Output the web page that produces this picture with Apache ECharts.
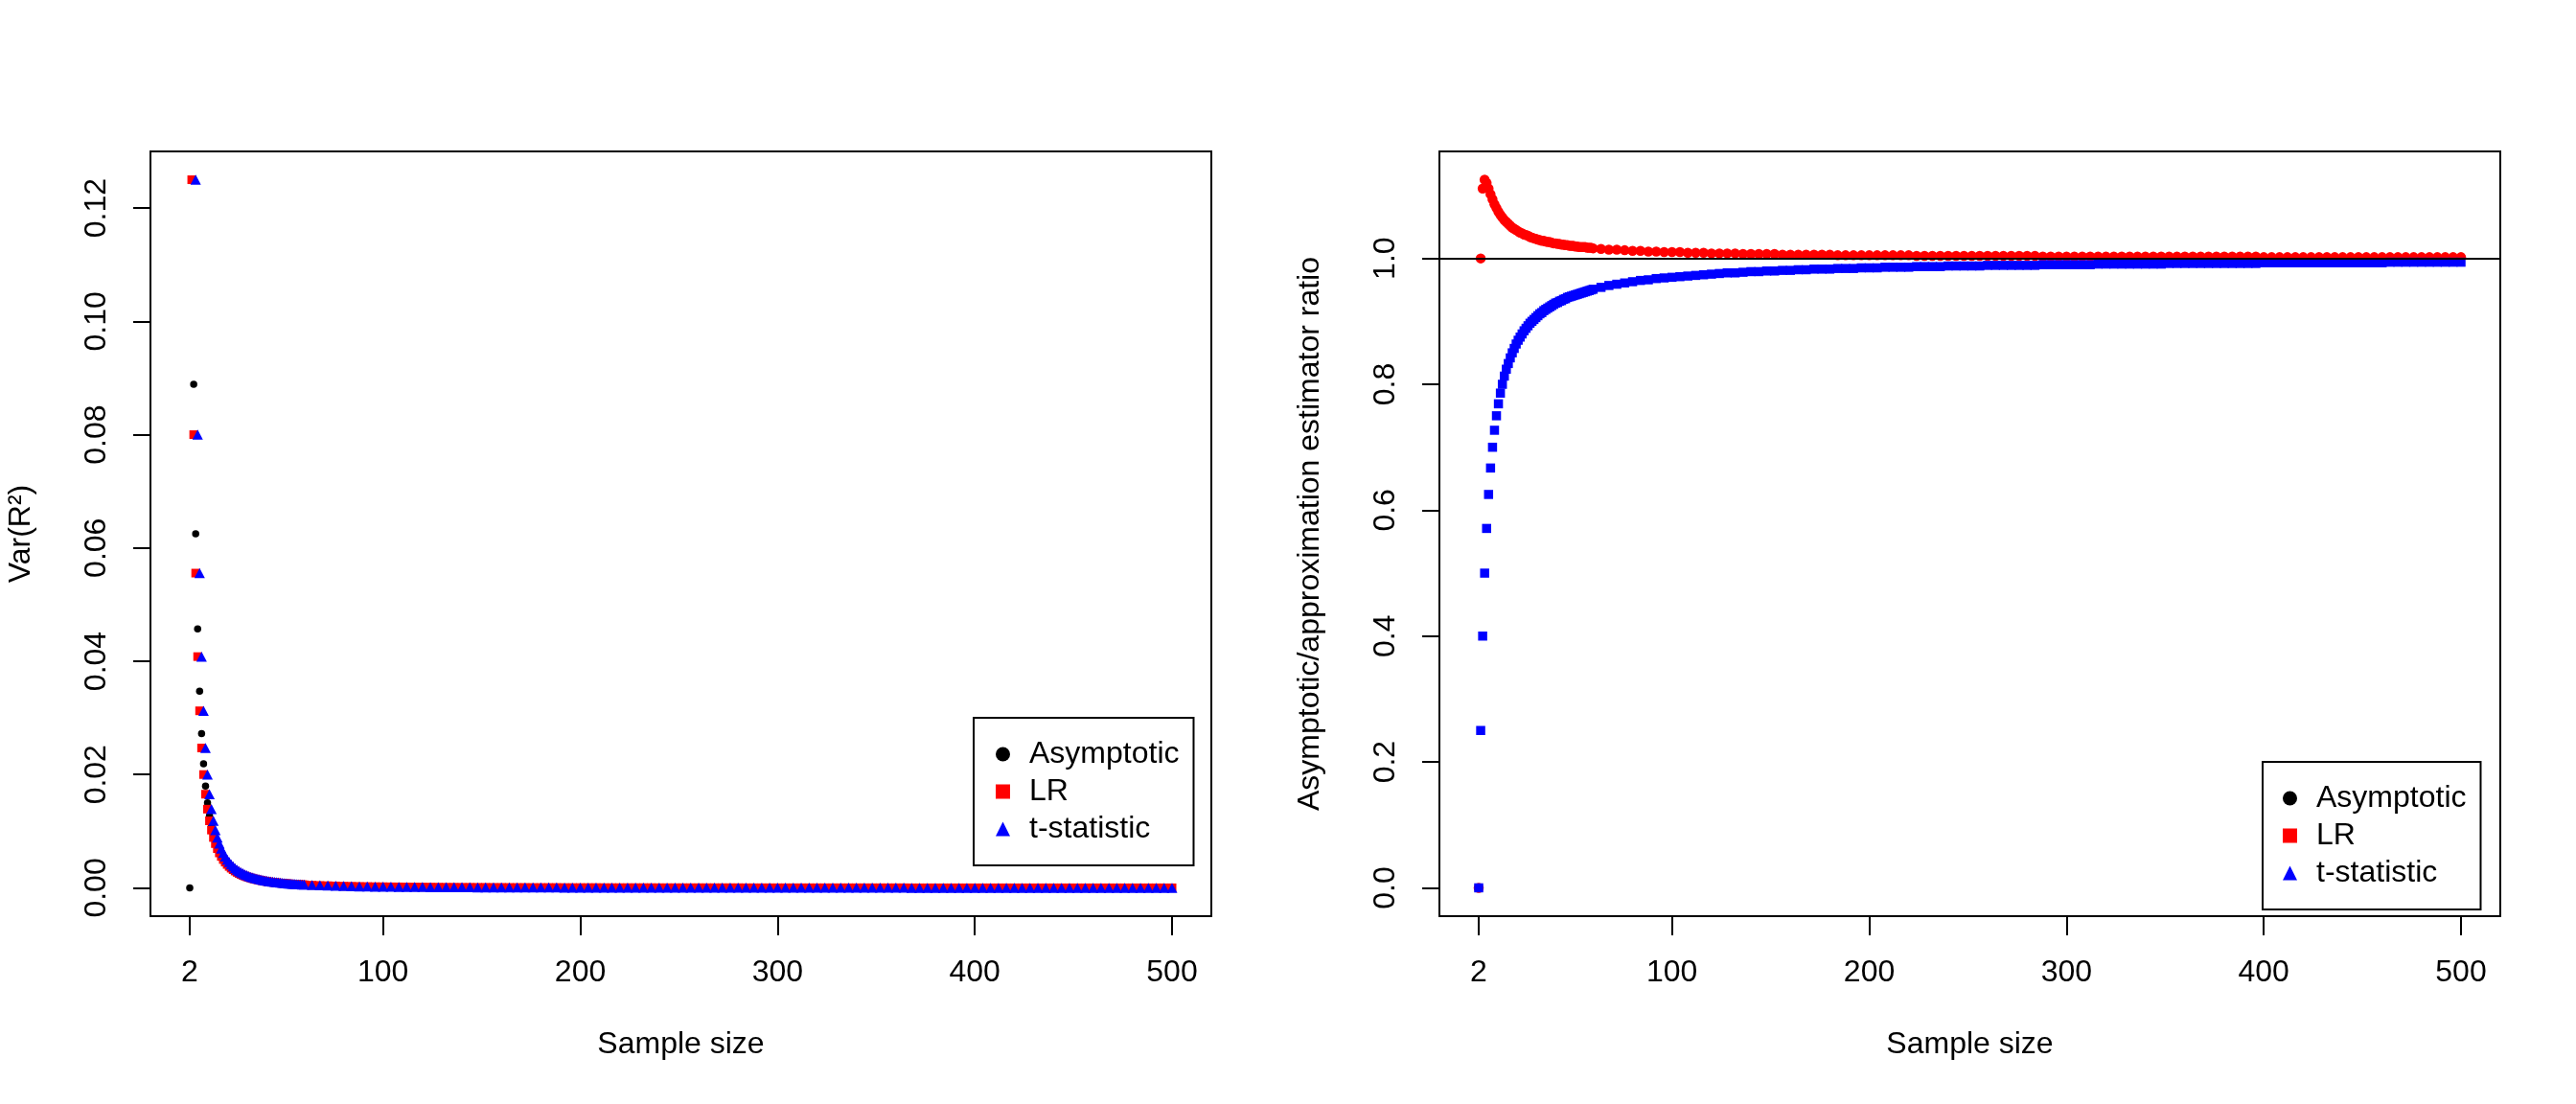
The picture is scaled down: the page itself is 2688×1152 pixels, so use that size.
<!DOCTYPE html>
<html>
<head>
<meta charset="utf-8">
<title>Var(R2) by sample size</title>
<script src="https://cdn.jsdelivr.net/npm/echarts/dist/echarts.min.js"></script>
<style>
  html,body{margin:0;padding:0;background:#fff;}
  #main{width:2688px;height:1152px;}
</style>
</head>
<body>
<div id="main"></div>
<script>
/* sample sizes: every n up to 60, then every 4th */
var sampleSize = [
  2,3,4,5,6,7,8,9,10,11,
  12,13,14,15,16,17,18,19,20,21,
  22,23,24,25,26,27,28,29,30,31,
  32,33,34,35,36,37,38,39,40,41,
  42,43,44,45,46,47,48,49,50,51,
  52,53,54,55,56,57,58,59,60,64,
  68,72,76,80,84,88,92,96,100,104,
  108,112,116,120,124,128,132,136,140,144,
  148,152,156,160,164,168,172,176,180,184,
  188,192,196,200,204,208,212,216,220,224,
  228,232,236,240,244,248,252,256,260,264,
  268,272,276,280,284,288,292,296,300,304,
  308,312,316,320,324,328,332,336,340,344,
  348,352,356,360,364,368,372,376,380,384,
  388,392,396,400,404,408,412,416,420,424,
  428,432,436,440,444,448,452,456,460,464,
  468,472,476,480,484,488,492,496,500
];

/* left panel, n = 2..104 */
var varAsymHead = [
  0,0.125,0.08889,0.0625,0.04571,0.03472,0.02721,0.02188,0.01796,0.015,
  0.01271,0.01091,0.00947,0.00829,0.00732,0.00651,0.00583,0.00525,0.00475,0.00432,
  0.00394,0.00362,0.00333,0.00307,0.00284,0.00264,0.00246,0.0023,0.00215,0.00201,
  0.00189,0.00178,0.00168,0.00159,0.0015,0.00142,0.00135,0.00128,0.00122,0.00116,
  0.00111,0.00106,0.00101,0.00097,0.00092,0.00089,0.00085,0.00082,0.00078,0.00075,
  0.00073,0.0007,0.00067,0.00065,0.00063,0.0006,0.00058,0.00056,0.00055,0.00048,
  0.00043,0.00038,0.00034,0.00031,0.00028,0.00026,0.00023,0.00021,0.0002,0.00018
];
var varLRHead = [
  null,0.125,0.08,0.05556,0.04082,0.03125,0.02469,0.02,0.01653,0.01389,
  0.01183,0.0102,0.00889,0.00781,0.00692,0.00617,0.00554,0.005,0.00454,0.00413,
  0.00378,0.00347,0.0032,0.00296,0.00274,0.00255,0.00238,0.00222,0.00208,0.00195,
  0.00184,0.00173,0.00163,0.00154,0.00146,0.00139,0.00131,0.00125,0.00119,0.00113,
  0.00108,0.00103,0.00099,0.00095,0.00091,0.00087,0.00083,0.0008,0.00077,0.00074,
  0.00071,0.00069,0.00066,0.00064,0.00062,0.00059,0.00057,0.00056,0.00054,0.00047,
  0.00042,0.00038,0.00034,0.0003,0.00028,0.00025,0.00023,0.00021,0.0002,0.00018
];
var varTHead = [
  null,null,null,0.125,0.08,0.05556,0.04082,0.03125,0.02469,0.02,
  0.01653,0.01389,0.01183,0.0102,0.00889,0.00781,0.00692,0.00617,0.00554,0.005,
  0.00454,0.00413,0.00378,0.00347,0.0032,0.00296,0.00274,0.00255,0.00238,0.00222,
  0.00208,0.00195,0.00184,0.00173,0.00163,0.00154,0.00146,0.00139,0.00131,0.00125,
  0.00119,0.00113,0.00108,0.00103,0.00099,0.00095,0.00091,0.00087,0.00083,0.0008,
  0.00077,0.00074,0.00071,0.00069,0.00066,0.00064,0.00062,0.00059,0.00057,0.0005,
  0.00045,0.0004,0.00036,0.00032,0.00029,0.00026,0.00024,0.00022,0.0002,0.00019
];
/* n = 108..500, the three variances overlap at this scale */
var varTail = [
  0.00017,0.00016,0.00015,0.00014,0.00013,0.00012,0.00011,0.00011,0.0001,0.0001,
  0.00009,0.00009,0.00008,0.00008,0.00007,0.00007,0.00007,0.00006,0.00006,0.00006,
  0.00006,0.00005,0.00005,0.00005,0.00005,0.00005,0.00004,0.00004,0.00004,0.00004,
  0.00004,0.00004,0.00004,0.00003,0.00003,0.00003,0.00003,0.00003,0.00003,0.00003,
  0.00003,0.00003,0.00003,0.00003,0.00002,0.00002,0.00002,0.00002,0.00002,0.00002,
  0.00002,0.00002,0.00002,0.00002,0.00002,0.00002,0.00002,0.00002,0.00002,0.00002,
  0.00002,0.00002,0.00002,0.00002,0.00002,0.00001,0.00001,0.00001,0.00001,0.00001,
  0.00001,0.00001,0.00001,0.00001,0.00001,0.00001,0.00001,0.00001,0.00001,0.00001,
  0.00001,0.00001,0.00001,0.00001,0.00001,0.00001,0.00001,0.00001,0.00001,0.00001,
  0.00001,0.00001,0.00001,0.00001,0.00001,0.00001,0.00001,0.00001,0.00001
];
var varAsym = varAsymHead.concat(varTail);
var varLR = varLRHead.concat(varTail);
var varT = varTHead.concat(varTail);

/* right panel: asymptotic / approximation */
var ratioLR = [
  0,1,1.111,1.125,1.12,1.111,1.102,1.094,1.086,1.08,
  1.074,1.069,1.065,1.061,1.058,1.055,1.052,1.049,1.047,1.045,
  1.043,1.041,1.04,1.038,1.037,1.036,1.034,1.033,1.032,1.031,
  1.03,1.029,1.028,1.028,1.027,1.026,1.026,1.025,1.024,1.024,
  1.023,1.023,1.022,1.022,1.021,1.021,1.02,1.02,1.02,1.019,
  1.019,1.018,1.018,1.018,1.018,1.017,1.017,1.017,1.016,1.015,
  1.014,1.014,1.013,1.012,1.012,1.011,1.011,1.01,1.01,1.01,
  1.009,1.009,1.009,1.008,1.008,1.008,1.008,1.007,1.007,1.007,
  1.007,1.007,1.006,1.006,1.006,1.006,1.006,1.006,1.006,1.005,
  1.005,1.005,1.005,1.005,1.005,1.005,1.005,1.005,1.005,1.004,
  1.004,1.004,1.004,1.004,1.004,1.004,1.004,1.004,1.004,1.004,
  1.004,1.004,1.004,1.004,1.004,1.003,1.003,1.003,1.003,1.003,
  1.003,1.003,1.003,1.003,1.003,1.003,1.003,1.003,1.003,1.003,
  1.003,1.003,1.003,1.003,1.003,1.003,1.003,1.003,1.003,1.003,
  1.003,1.003,1.003,1.002,1.002,1.002,1.002,1.002,1.002,1.002,
  1.002,1.002,1.002,1.002,1.002,1.002,1.002,1.002,1.002,1.002,
  1.002,1.002,1.002,1.002,1.002,1.002,1.002,1.002,1.002
];
var ratioT = [
  0,0.25,0.4,0.5,0.571,0.625,0.667,0.7,0.727,0.75,
  0.769,0.786,0.8,0.813,0.824,0.833,0.842,0.85,0.857,0.864,
  0.87,0.875,0.88,0.885,0.889,0.893,0.897,0.9,0.903,0.906,
  0.909,0.912,0.914,0.917,0.919,0.921,0.923,0.925,0.927,0.929,
  0.93,0.932,0.933,0.935,0.936,0.938,0.939,0.94,0.941,0.942,
  0.943,0.944,0.945,0.946,0.947,0.948,0.949,0.95,0.951,0.954,
  0.957,0.959,0.961,0.963,0.965,0.966,0.968,0.969,0.97,0.971,
  0.972,0.973,0.974,0.975,0.976,0.977,0.977,0.978,0.979,0.979,
  0.98,0.98,0.981,0.981,0.982,0.982,0.983,0.983,0.983,0.984,
  0.984,0.984,0.985,0.985,0.985,0.986,0.986,0.986,0.986,0.987,
  0.987,0.987,0.987,0.988,0.988,0.988,0.988,0.988,0.989,0.989,
  0.989,0.989,0.989,0.989,0.989,0.99,0.99,0.99,0.99,0.99,
  0.99,0.99,0.991,0.991,0.991,0.991,0.991,0.991,0.991,0.991,
  0.991,0.992,0.992,0.992,0.992,0.992,0.992,0.992,0.992,0.992,
  0.992,0.992,0.992,0.993,0.993,0.993,0.993,0.993,0.993,0.993,
  0.993,0.993,0.993,0.993,0.993,0.993,0.993,0.993,0.993,0.994,
  0.994,0.994,0.994,0.994,0.994,0.994,0.994,0.994,0.994
];

var xTicks = [2,100,200,300,400,500];
var varTicks = [0,0.02,0.04,0.06,0.08,0.10,0.12];
var ratioTicks = [0,0.2,0.4,0.6,0.8,1.0];
var legendNames = ['Asymptotic','LR','t-statistic'];

!function(){
    var font = 'Liberation Sans, Arial, sans-serif';
    var txt = {fontFamily:font, fontSize:32, color:'#000'};

    function pairs(xs, ys){
        var out = [];
        for (var i = 0; i < xs.length; i++) {
            if (ys[i] != null) out.push([xs[i], ys[i]]);
        }
        return out;
    }

    /* R-style axis: ticks outward, box comes from the grid border */
    function xAxis(idx){
        return {
            type:'value', gridIndex:idx, min:-17.92, max:519.92,
            name:'Sample size', nameLocation:'middle', nameGap:118, nameTextStyle:txt,
            axisLine:{show:false, onZero:false}, splitLine:{show:false},
            axisTick:{show:true, length:20, lineStyle:{color:'#000', width:2}, customValues:xTicks},
            axisLabel:{margin:43, customValues:xTicks, fontFamily:font, fontSize:32, color:'#000'}
        };
    }
    function yAxis(idx, min, max, ticks, digits, title){
        return {
            type:'value', gridIndex:idx, min:min, max:max,
            name:title, nameLocation:'middle', nameRotate:90, nameGap:119, nameTextStyle:txt,
            axisLine:{show:false, onZero:false}, splitLine:{show:false},
            axisTick:{show:true, length:18, lineStyle:{color:'#000', width:2}, customValues:ticks},
            axisLabel:{rotate:90, margin:40, customValues:ticks, fontFamily:font, fontSize:32, color:'#000',
                formatter:function(v){ return v.toFixed(digits); }}
        };
    }
    function legend(left, top, padLeft){
        return {
            orient:'vertical', left:left, top:top,
            padding:[22,15,22,padLeft], itemGap:7, itemWidth:15, itemHeight:15,
            borderColor:'#000', borderWidth:2, selectedMode:false,
            textStyle:{fontFamily:font, fontSize:32, color:'#000', lineHeight:32, padding:[0,0,0,15]},
            data:[
                {name:legendNames[0], icon:'circle'},
                {name:legendNames[1], icon:'rect'},
                {name:legendNames[2], icon:'triangle'}
            ]
        };
    }
    function dots(name, grid, symbol, size, color, xs, ys){
        return {
            name:name, type:'scatter', xAxisIndex:grid, yAxisIndex:grid,
            symbol:symbol, symbolSize:size, itemStyle:{color:color, opacity:1},
            data:pairs(xs, ys), emphasis:{disabled:true}
        };
    }

    var chart = echarts.init(document.getElementById('main'));
    var ratioLRSeries = dots('LR', 1, 'circle', 10.5, '#ff0000', sampleSize, ratioLR);
    ratioLRSeries.markLine = {
        silent:true, symbol:['none','none'], label:{show:false},
        lineStyle:{color:'#000', width:2, type:'solid'}, data:[{yAxis:1}]
    };

    var option = {
        animation:false,
        backgroundColor:'#fff',
        grid:[
            {left:157, top:158, width:1107, height:798, show:true, borderColor:'#000', borderWidth:2},
            {left:1502, top:158, width:1107, height:798, show:true, borderColor:'#000', borderWidth:2}
        ],
        xAxis:[xAxis(0), xAxis(1)],
        yAxis:[
            yAxis(0, -0.005, 0.13, varTicks, 2, 'Var(R²)'),
            yAxis(1, -0.045, 1.17, ratioTicks, 1, 'Asymptotic/approximation estimator ratio')
        ],
        legend:[legend(1016, 749, 23), legend(2361, 795, 21)],
        series:[
            dots('Asymptotic', 0, 'circle', 7.5, '#000000', sampleSize, varAsym),
            dots('LR', 0, 'rect', 9, '#ff0000', sampleSize, varLR),
            dots('t-statistic', 0, 'triangle', [11,10.5], '#0000ff', sampleSize, varT),
            ratioLRSeries,
            dots('t-statistic', 1, 'rect', 9.5, '#0000ff', sampleSize, ratioT)
        ]
    };
    chart.setOption(option);
}();
</script>
</body>
</html>
